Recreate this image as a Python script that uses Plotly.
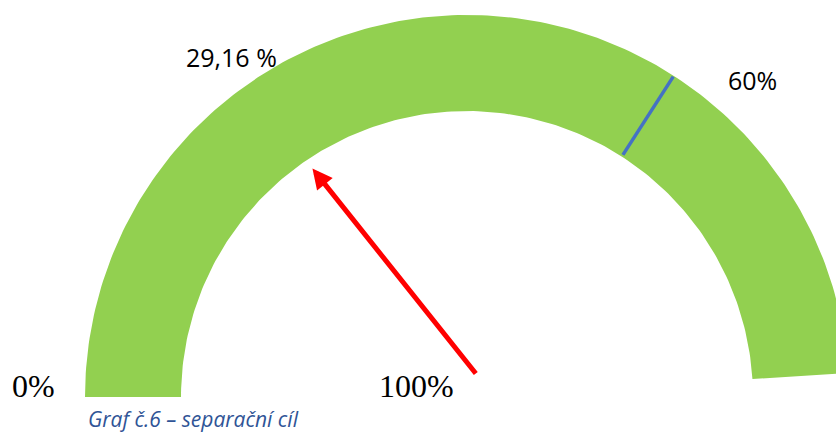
import numpy as np
import plotly.graph_objects as go

# ---- data ----
scale_min = 0
scale_max = 100
actual_value = 29.16          # red arrow
target_marker_pos = 69.6      # blue marker position as read on the gauge arc
end_labels = ["0%", "100%"]
actual_label = "29,16 %"
target_label = "60%"
caption = "Graf č.6 – separační cíl"

# ---- geometry / style ----
W, H = 836, 432
cx, cy = 467, 397
r_out, r_in = 382, 286
a_start, a_end = 180.0, 3.6   # degrees for scale_min and scale_max
green = "#92D050"
blue = "#4472C4"


def ang(v):
    return np.radians(a_start - (v - scale_min) / (scale_max - scale_min) * (a_start - a_end))


def pt(v, r):
    a = ang(v)
    return cx + r * np.cos(a), cy - r * np.sin(a)


vals = np.linspace(scale_min, scale_max, 200)
ox, oy = pt(vals, r_out)
ix, iy = pt(vals[::-1], r_in)
arc_x = np.concatenate([ox, ix, ox[:1]])
arc_y = np.concatenate([oy, iy, oy[:1]])

fig = go.Figure()
fig.add_trace(go.Scatter(x=arc_x, y=arc_y, fill="toself", fillcolor=green,
                         mode="lines", line=dict(width=0, color=green),
                         hoverinfo="skip", showlegend=False))

tx0, ty0 = pt(target_marker_pos, r_in + 2)
tx1, ty1 = pt(target_marker_pos, r_out - 1)
fig.add_trace(go.Scatter(x=[tx0, tx1], y=[ty0, ty1], mode="lines",
                         line=dict(color=blue, width=3.5), hoverinfo="skip",
                         showlegend=False))

# arrow from near the hub to the actual value
tail_x, tail_y = cx + 10, cy - 22
a = ang(actual_value)
alen = 264
tip_x, tip_y = tail_x + alen * np.cos(a), tail_y - alen * np.sin(a)
fig.add_annotation(x=tip_x, y=tip_y, ax=tail_x, ay=tail_y, xref="x", yref="y",
                   axref="x", ayref="y", text="", showarrow=True,
                   arrowcolor="#FF0000", arrowwidth=5, arrowhead=2,
                   arrowsize=0.8, standoff=0, startstandoff=0)

serif = "Liberation Serif, Times New Roman, serif"
sans = "Open Sans, Noto Sans, sans-serif"
fig.add_annotation(x=10, y=386, xref="x", yref="y", text=end_labels[0],
                   showarrow=False, xanchor="left", yanchor="middle",
                   font=dict(family=serif, size=32, color="black"))
fig.add_annotation(x=416, y=386, xref="x", yref="y", text=end_labels[1],
                   showarrow=False, xanchor="center", yanchor="middle",
                   font=dict(family=serif, size=32, color="black"))
fig.add_annotation(x=231, y=57, xref="x", yref="y", text=actual_label,
                   showarrow=False, xanchor="center", yanchor="middle",
                   font=dict(family=sans, size=25, color="black"))
fig.add_annotation(x=752, y=80, xref="x", yref="y", text=target_label,
                   showarrow=False, xanchor="center", yanchor="middle",
                   font=dict(family=sans, size=25, color="black"))
fig.add_annotation(x=86, y=419, xref="x", yref="y",
                   text="<i>" + caption + "</i>",
                   showarrow=False, xanchor="left", yanchor="middle",
                   font=dict(family=sans, size=21, color="#2F5496"))

fig.update_layout(width=W, height=H, margin=dict(l=0, r=0, t=0, b=0),
                  paper_bgcolor="white", plot_bgcolor="white",
                  xaxis=dict(range=[0, W], visible=False, fixedrange=True),
                  yaxis=dict(range=[H, 0], visible=False, fixedrange=True),
                  showlegend=False)

fig.write_html("out.html", config={"displayModeBar": False},
               post_script="document.body.style.margin='0px';document.body.style.overflow='hidden';")
